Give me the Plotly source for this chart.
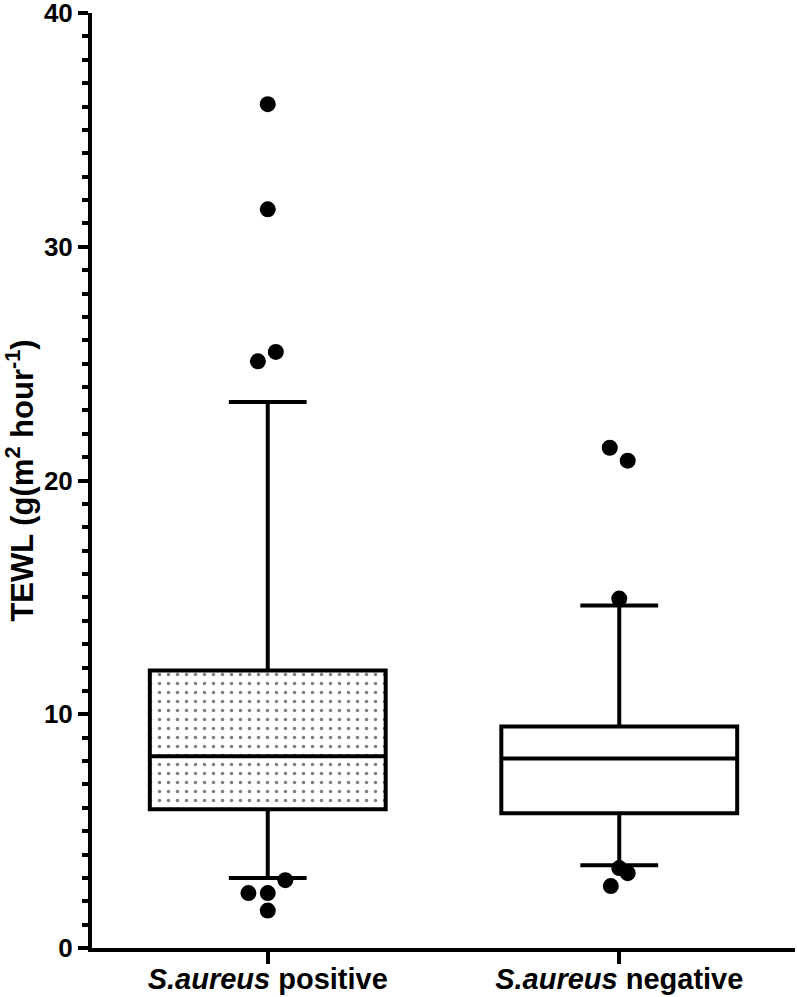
import plotly.graph_objects as go

# Box summary values (TEWL, g/(m2 hour))
groups = ["<i>S.aureus</i> positive", "<i>S.aureus</i> negative"]
q1 = [5.94, 5.76]
median = [8.2, 8.11]
q3 = [11.87, 9.48]
lower_whisker = [2.99, 3.54]
upper_whisker = [23.36, 14.65]

# Outliers: group index, value, horizontal jitter
out_group = [0, 0, 0, 0, 0, 0, 0, 0, 1, 1, 1, 1, 1, 1]
out_value = [36.1, 31.6, 25.1, 25.5, 2.9, 2.35, 2.35, 1.6, 21.4, 20.85, 14.95, 3.42, 3.2, 2.65]
out_jitter = [0, 0, -0.028, 0.023, 0.05, -0.055, 0, 0, -0.027, 0.024, 0, 0, 0.024, -0.024]

box_w = 0.671
font = "Liberation Sans, Arial, sans-serif"

fig = go.Figure()

# dotted fill for the first box (box traces cannot take a pattern)
fig.add_trace(go.Bar(
    x=[0], base=[q1[0]], y=[q3[0] - q1[0]], width=box_w,
    marker=dict(color="white", line=dict(width=0),
                pattern=dict(shape=".", fgcolor="black", bgcolor="white",
                             size=9, solidity=0.12)),
    hoverinfo="skip", showlegend=False))

fig.add_trace(go.Box(
    x=[0, 1], q1=q1, median=median, q3=q3,
    lowerfence=lower_whisker, upperfence=upper_whisker,
    width=box_w, whiskerwidth=0.33, boxpoints=False,
    line=dict(color="black", width=4), fillcolor="rgba(0,0,0,0)",
    showlegend=False))

fig.add_trace(go.Scatter(
    x=[g + j for g, j in zip(out_group, out_jitter)], y=out_value,
    mode="markers", marker=dict(color="black", size=16),
    showlegend=False))

fig.update_layout(
    width=797, height=997,
    margin=dict(l=92, r=2, t=13, b=49),
    plot_bgcolor="white", paper_bgcolor="white",
    barmode="overlay", boxmode="overlay",
    font=dict(family=font, color="black"),
    xaxis=dict(range=[-0.5, 1.5], tickvals=[0, 1], ticktext=groups,
               automargin=False, ticklabelstandoff=-10,
               showgrid=False, zeroline=False, showline=True,
               linecolor="black", linewidth=4,
               ticks="outside", ticklen=12, tickwidth=4, tickcolor="black",
               tickfont=dict(size=29, family=font, weight="bold")),
    yaxis=dict(range=[0, 40], tickvals=[0, 10, 20, 30, 40],
               automargin=False, ticklabeloverflow="allow",
               showgrid=False, zeroline=False, showline=True,
               linecolor="black", linewidth=4,
               ticks="outside", ticklen=10, tickwidth=4, tickcolor="black",
               tickfont=dict(size=26, family=font, weight="bold"),
               minor=dict(dtick=1, ticks="outside", ticklen=6, tickwidth=3.5,
                          tickcolor="black", showgrid=False),
               title=dict(text="TEWL (g(m<sup>2</sup> hour<sup>-1</sup>)",
                          font=dict(size=31, family=font, weight="bold"))),
)

# drop the browser's default page margin so the figure sits at the corner
fig.write_html("out.html", config={"displayModeBar": False},
               post_script="document.body.style.margin = '0';")
